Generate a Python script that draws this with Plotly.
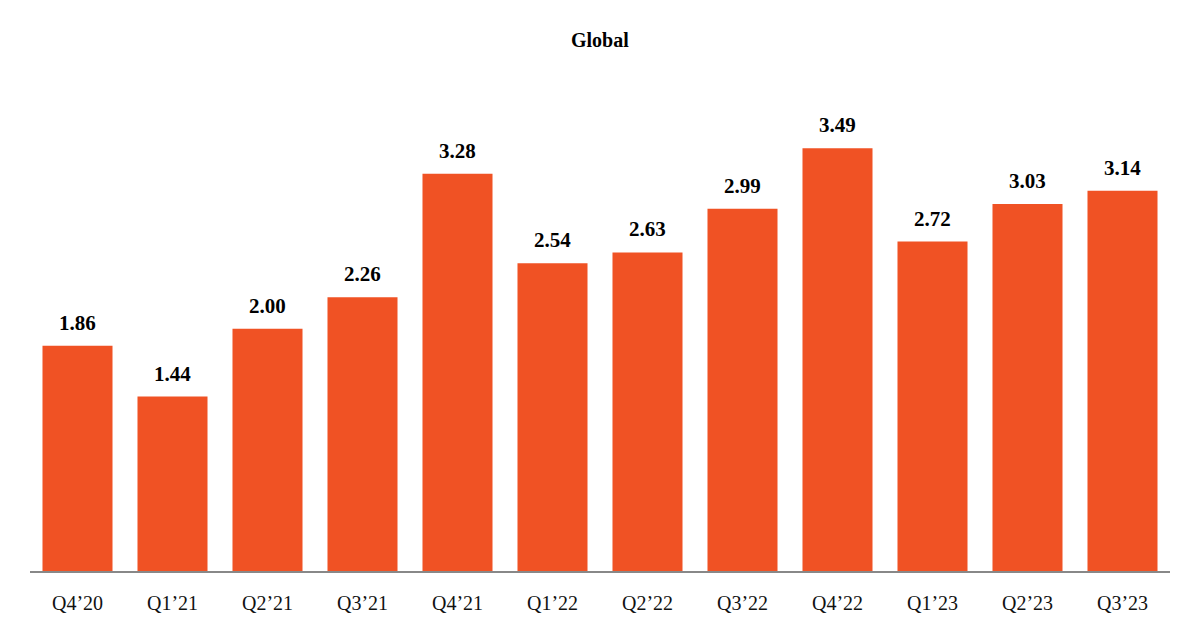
import plotly.graph_objects as go

quarters = ["Q4’20", "Q1’21", "Q2’21", "Q3’21", "Q4’21", "Q1’22",
            "Q2’22", "Q3’22", "Q4’22", "Q1’23", "Q2’23", "Q3’23"]
values = [1.86, 1.44, 2.00, 2.26, 3.28, 2.54, 2.63, 2.99, 3.49, 2.72, 3.03, 3.14]
title_text = "Global"

bar_color = "#F05224"
font_family = "Liberation Serif"

fig = go.Figure()
fig.add_trace(go.Bar(
    x=quarters, y=values,
    marker=dict(color=bar_color, line=dict(width=0)),
    hoverinfo="x+y",
))

for q, v in zip(quarters, values):
    fig.add_annotation(
        x=q, y=v, text=f"<b>{v:.2f}</b>", showarrow=False,
        yanchor="bottom", yshift=9,
        font=dict(family=font_family, size=21, color="#000000"),
    )

fig.add_annotation(
    xref="paper", yref="paper", x=0.5, y=1 + 40 / 491, yanchor="middle",
    text=f"<b>{title_text}</b>", showarrow=False,
    font=dict(family=font_family, size=20, color="#000000"),
)

fig.update_layout(
    width=1200, height=640,
    margin=dict(l=30, r=30, t=80, b=69),
    paper_bgcolor="white", plot_bgcolor="white",
    bargap=0.263,
    showlegend=False,
    font=dict(family=font_family, color="#000000"),
)
fig.update_xaxes(
    showline=True, linecolor="#888888", linewidth=2,
    ticks="", showgrid=False, zeroline=False,
    tickfont=dict(family=font_family, size=20, color="#111111"),
    ticklabelstandoff=13,
)
fig.update_yaxes(
    range=[0, 4.054], visible=False, showgrid=False, zeroline=False,
)

fig.write_html("out.html")
